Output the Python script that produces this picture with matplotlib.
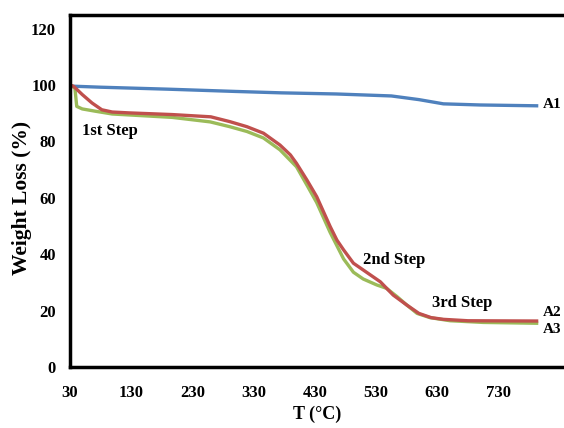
import matplotlib
matplotlib.use("Agg")
import matplotlib.pyplot as plt

# Data
a1_t = [30, 80, 190, 300, 375, 465, 555, 600, 640, 700, 795]
a1_w = [99.6, 99.2, 98.5, 97.7, 97.2, 96.8, 96.1, 94.8, 93.3, 92.9, 92.6]

a2_t = [30, 36, 50, 66, 82, 99, 126, 197, 260, 291, 319, 346, 373, 390, 400, 417, 433, 444,
        455, 466, 477, 493, 509, 537, 558, 580, 600, 620, 640, 680, 795]
a2_w = [100, 99.5, 96.6, 93.6, 91.2, 90.4, 90.1, 89.5, 88.7, 87.0, 85.2, 82.9, 78.7, 75.2, 72.2,
        66.3, 60.4, 55.1, 49.8, 45.0, 41.5, 36.8, 34.4, 30.2, 25.5, 22.0, 19.0, 17.5, 16.9, 16.4, 16.3]

a3_t = [30, 38, 41, 50, 71, 99, 197, 259, 291, 319, 346, 373, 400, 417, 433, 455, 466, 477,
        493, 509, 531, 547, 564, 580, 597, 618, 651, 705, 795]
a3_w = [100, 98.9, 92.4, 91.5, 90.7, 89.7, 88.5, 86.9, 85.2, 83.5, 81.2, 77.0, 71.0, 64.5, 58.3,
        47.7, 43.0, 38.3, 33.6, 31.2, 29.1, 27.9, 25.0, 22.0, 19.0, 17.5, 16.4, 15.8, 15.5]

x_ticks = [30, 130, 230, 330, 430, 530, 630, 730]
y_ticks = [0, 20, 40, 60, 80, 100, 120]

series_labels = ["A1", "A2", "A3"]
step_labels = ["1st Step", "2nd Step", "3rd Step"]

plt.rcParams['font.family'] = ['Liberation Serif', 'DejaVu Serif']

fig = plt.figure(figsize=(5.64, 4.28), dpi=100)
ax = fig.add_axes([70/564, 1-367/428, 1-70/564, (367-15)/428])

kw = dict(lw=2.4, solid_capstyle='butt', solid_joinstyle='round')
ax.plot(a1_t, a1_w, color='#4F81BD', **kw)
ax.plot(a3_t, a3_w, color='#9BBB59', **kw)
ax.plot(a2_t, a2_w, color='#C0504D', **kw)

ax.set_xlim(30, 837)
ax.set_ylim(0, 124.8)
ax.set_xticks(x_ticks)
ax.set_yticks(y_ticks)
ax.tick_params(length=0, labelsize=12)
ax.tick_params(axis='x', pad=13)
ax.tick_params(axis='y', pad=10)
for lab in ax.get_xticklabels() + ax.get_yticklabels():
    lab.set_fontweight('bold')

for s in ['left', 'top', 'bottom']:
    ax.spines[s].set_linewidth(2.5)
    ax.spines[s].set_color('black')
ax.spines['right'].set_visible(False)

ax.set_xlabel('T (°C)', fontsize=13, fontweight='bold', labelpad=3)
ax.set_ylabel('Weight Loss (%)', fontsize=15.5, fontweight='bold', va='center')
ax.yaxis.set_label_coords(-0.097, 0.48)

tk = dict(fontsize=12, fontweight='bold', va='center', ha='left')
ax.text(50, 83.7, step_labels[0], **tk)
ax.text(509, 38, step_labels[1], **tk)
ax.text(621, 22.7, step_labels[2], **tk)

ak = dict(fontsize=11, fontweight='bold', va='center', ha='left', clip_on=False)
ax.text(802, 93.0, series_labels[0], **ak)
ax.text(802, 19.3, series_labels[1], **ak)
ax.text(802, 13.4, series_labels[2], **ak)

fig.savefig('out.png', dpi=100, facecolor='white')
